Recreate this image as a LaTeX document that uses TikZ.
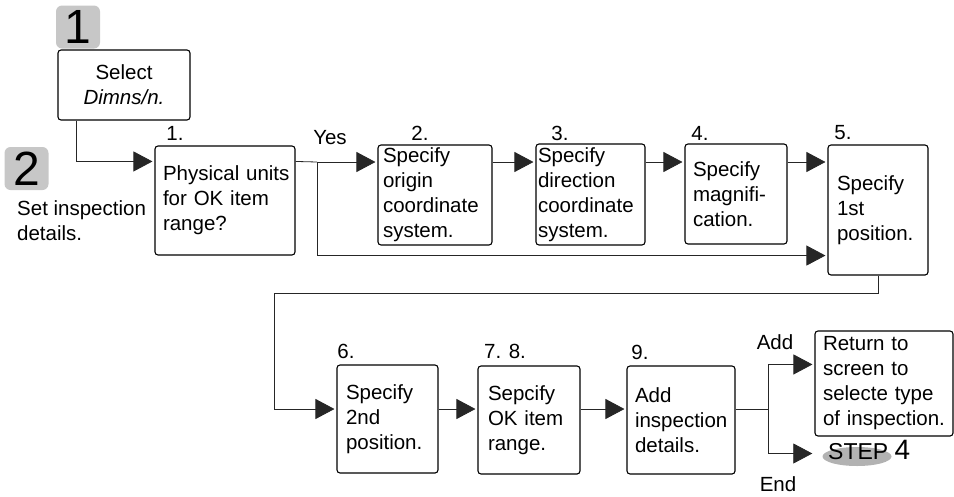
\documentclass[tikz,border=0pt]{standalone}
\usepackage{fontspec}
\setmainfont{Liberation Sans}
\usetikzlibrary{arrows.meta, positioning, shapes.geometric}

\begin{document}
\begin{tikzpicture}[
  x=1pt, y=-1pt,
  font=\fontsize{20.5}{25}\selectfont,
  box/.style={draw, rounded corners=3pt, line width=1.1pt, align=left, inner xsep=0pt, inner ysep=0pt},
  badge/.style={fill=black!22, rounded corners=6pt, minimum width=44pt, minimum height=43pt,
                inner sep=0pt, font=\fontsize{48}{48}\selectfont},
  num/.style={inner sep=0pt},
  wire/.style={line width=0.8pt, black!85},
  arr/.style={wire, -{Triangle[length=19pt, width=20pt]}, shorten >=2pt}
]
  \useasboundingbox (0,0) rectangle (954,496);

  % step badges
  \node[badge] (one) at (78,27) {1};
  \node[badge] (two) at (26.5,168.5) {2};
  \node[box, align=center, minimum width=132pt, minimum height=70pt, text width=120pt] (sel) at (124,85)
    {Select\\\textit{Dimns/n.}};
  \node[num, anchor=west, align=left] (setdet) at (17,221) {Set inspection\\details.};

  % first row
  \node[box, minimum width=140pt, minimum height=109pt, text width=124pt] (b1) at (225,200.5)
    {\mbox{Physical units}\\for OK item\\range?};
  \node[box, minimum width=114pt, minimum height=100pt, text width=104pt] (b2) at (435,195)
    {Specify\\origin\\coordinate\\system.};
  \node[box, minimum width=109pt, minimum height=101pt, text width=105pt] (b3) at (590.5,194.5)
    {Specify\\direction\\coordinate\\system.};
  \node[box, minimum width=102pt, minimum height=100pt, text width=86pt] (b4) at (736,194)
    {Specify\\magnifi-\\cation.};
  \node[box, minimum width=100pt, minimum height=130pt, text width=82pt] (b5) at (878,210)
    {Specify\\1st\\position.};

  % second row
  \node[box, minimum width=101pt, minimum height=108pt, text width=83pt] (b6) at (387.5,419)
    {Specify\\2nd\\position.};
  \node[box, minimum width=102pt, minimum height=108pt, text width=82pt] (b7) at (529,420)
    {Sepcify\\OK item\\range.};
  \node[box, minimum width=108pt, minimum height=108pt, text width=92pt] (b9) at (681,420)
    {Add\\inspection\\details.};
  \node[box, minimum width=138pt, minimum height=105pt, text width=122pt] (ret) at (884,383.5)
    {Return to\\screen to\\selecte type\\of inspection.};
  \node[ellipse, fill=black!30, minimum width=69pt, minimum height=19pt, inner sep=0pt] (step) at (857,456.5) {};
  \node[num, anchor=base west, font=\fontsize{23}{23}\selectfont] (steplbl) at (828,459)
    {STEP \fontsize{28}{28}\selectfont 4};

  % numbers and branch labels
  \node[num] (n1) at (175,133) {1.};
  \node[num] (n2) at (420,133) {2.};
  \node[num] (n3) at (560,133) {3.};
  \node[num] (n4) at (700,133) {4.};
  \node[num] (n5) at (843,133) {5.};
  \node[num] (n6) at (346,351) {6.};
  \node[num] (n7) at (505,351) {7. 8.};
  \node[num] (n9) at (640,352) {9.};
  \node[num] (yeslbl) at (330,138) {Yes};
  \node[num] (addlbl) at (775,342) {Add};
  \node[num] (endlbl) at (778,484) {End};

  \coordinate (yes) at (317,162);
  \coordinate (turn) at (274,293);
  \coordinate (split) at (768,409);

  \draw[arr] ([xshift=19pt]sel.south west) |- ([yshift=-16pt]b1.north west);
  \draw[wire] ([yshift=-16pt]b1.north east) -- (yes);
  \draw[arr] (yes) -- (yes -| b2.west);
  \draw[arr] (yes) |- ([yshift=20pt]b5.south west);
  \draw[arr] (b2.east |- yes) -- (b3.west |- yes);
  \draw[arr] (b3.east |- yes) -- (b4.west |- yes);
  \draw[arr] (b4.east |- yes) -- (b5.west |- yes);
  \draw[arr] (b5.south) |- (turn) |- (b6.west |- split);
  \draw[arr] (b6.east |- split) -- (b7.west |- split);
  \draw[arr] (b7.east |- split) -- (b9.west |- split);
  \draw[wire] (b9.east |- split) -- (split);
  \draw[arr] (split) |- ([yshift=-34pt]ret.north west);
  \draw[arr, shorten >=10pt] (split) |- ([yshift=3pt]step.west);
\end{tikzpicture}
\end{document}
